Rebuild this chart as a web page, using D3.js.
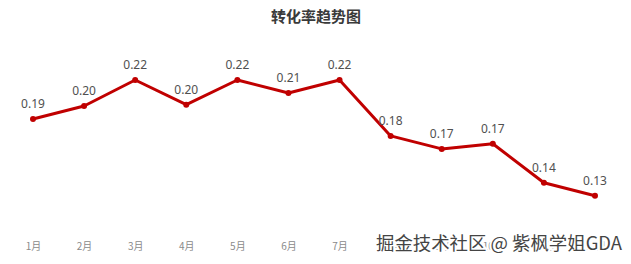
<!DOCTYPE html>
<html>
<head>
<meta charset="utf-8">
<script src="https://cdn.jsdelivr.net/npm/d3@7"></script>
<style>
  body { margin: 0; background: #fff; }
  svg { display: block; font-family: "Noto Sans", "Noto Sans CJK SC", sans-serif; }
</style>
</head>
<body>
<div id="chart"></div>
<script>
// chart data
const months = ["1月", "2月", "3月", "4月", "5月", "6月", "7月", "8月", "9月", "10月", "11月", "12月"];
const rates = [0.19, 0.20, 0.22, 0.201, 0.22, 0.21, 0.22, 0.177, 0.167, 0.171, 0.141, 0.131];
const yDomain = [0.1, 0.24];

const width = 631, height = 264;
const margin = { top: 54, right: 36, bottom: 28, left: 33 };

const svg = d3.select("#chart").append("svg")
    .attr("width", width)
    .attr("height", height);

// title
svg.append("text")
    .attr("x", 316)
    .attr("y", 22)
    .attr("text-anchor", "middle")
    .style("font-family", "'Noto Sans CJK SC', sans-serif")
    .style("font-weight", "bold")
    .style("font-size", "15px")
    .style("fill", "#3a3a3a")
    .text("转化率趋势图");

// scales
const x = d3.scalePoint()
    .domain(months)
    .range([margin.left, width - margin.right]);

const y = d3.scaleLinear()
    .domain(yDomain)
    .range([height - margin.bottom, margin.top]);

// x axis (labels only)
const xAxis = svg.append("g")
    .attr("transform", `translate(0,${height - margin.bottom})`)
    .call(d3.axisBottom(x).tickSize(0).tickPadding(7));
xAxis.select(".domain").remove();
xAxis.selectAll("text")
    .style("font-family", "'Noto Sans CJK SC', sans-serif")
    .style("font-size", "10px")
    .style("fill", "#8a8a8a");

// line
const line = d3.line()
    .x((d, i) => x(months[i]))
    .y(d => y(d));

svg.append("path")
    .datum(rates)
    .attr("fill", "none")
    .attr("stroke", "#c00000")
    .attr("stroke-width", 3)
    .attr("stroke-linejoin", "round")
    .attr("d", line);

// points
svg.append("g")
    .selectAll("circle")
    .data(rates)
    .enter()
    .append("circle")
    .attr("cx", (d, i) => x(months[i]))
    .attr("cy", d => y(d))
    .attr("r", 3)
    .attr("fill", "#c00000");

// value labels
const fmt = d3.format(".2f");
svg.append("g")
    .selectAll("text")
    .data(rates)
    .enter()
    .append("text")
    .attr("x", (d, i) => x(months[i]))
    .attr("y", d => y(d) - 11)
    .attr("text-anchor", "middle")
    .style("font-size", "12px")
    .style("fill", "#505050")
    .text(d => fmt(d));

// watermark (sits over the last axis labels, as in the source image)
svg.append("text")
    .attr("x", 622)
    .attr("y", 250)
    .attr("text-anchor", "end")
    .attr("textLength", 246)
    .attr("lengthAdjust", "spacingAndGlyphs")
    .style("font-family", "'Noto Sans CJK SC', sans-serif")
    .style("font-size", "18px")
    .style("fill", "#444")
    .style("stroke", "#fff")
    .style("stroke-width", 4)
    .style("paint-order", "stroke")
    .text("掘金技术社区 @ 紫枫学姐GDA");
</script>
</body>
</html>
